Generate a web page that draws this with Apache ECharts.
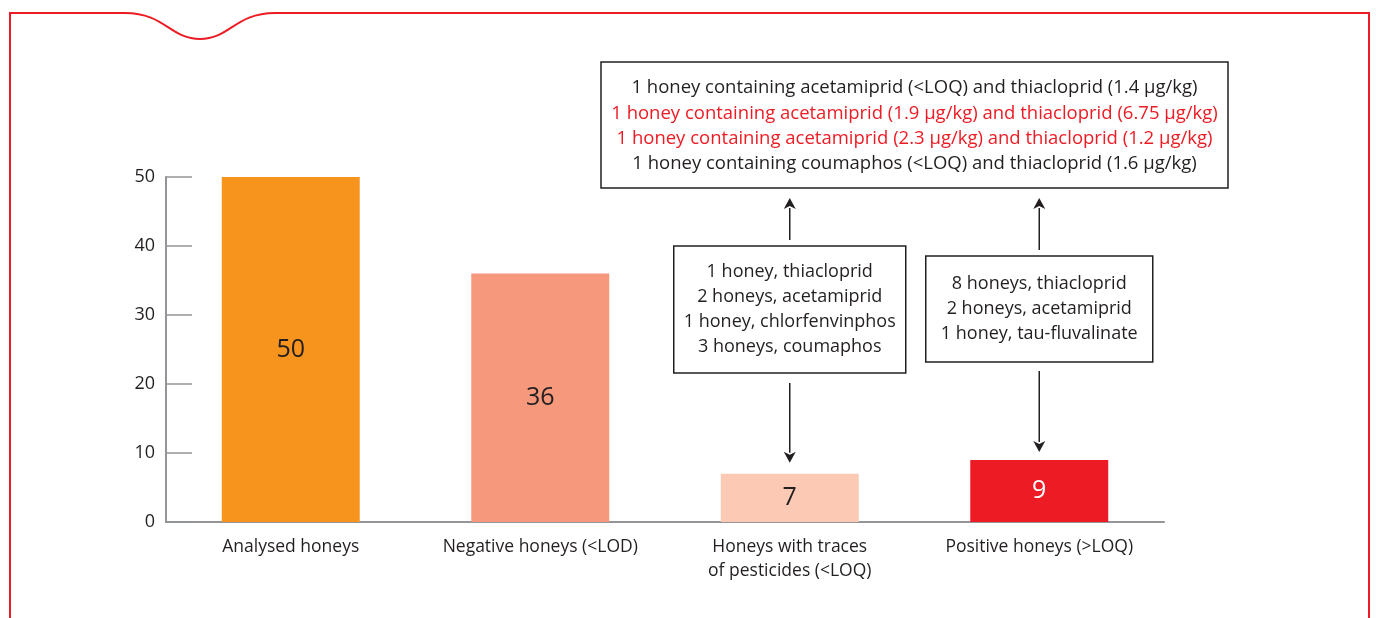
<!DOCTYPE html>
<html>
<head>
<meta charset="utf-8">
<script src="https://cdn.jsdelivr.net/npm/echarts@6/dist/echarts.min.js"></script>
<style>
  html, body { margin: 0; padding: 0; background: #ffffff; }
  #chart { width: 1376px; height: 618px; }
</style>
</head>
<body>
<div id="chart"></div>
<script>
// Honey survey: number of honeys per result group
const categories = [
  'Analysed honeys',
  'Negative honeys (<LOD)',
  'Honeys with traces\nof pesticides (<LOQ)',
  'Positive honeys (>LOQ)'
];
const honeyCounts = [50, 36, 7, 9];
const barColors = ['#f7941d', '#f5987b', '#fbc9b4', '#ed1c24'];
const barLabelColors = ['#231f20', '#231f20', '#231f20', '#ffffff'];
const yTicks = [0, 10, 20, 30, 40, 50];

// Detail notes shown above the bars
const tracesNotes = [
  '1 honey, thiacloprid',
  '2 honeys, acetamiprid',
  '1 honey, chlorfenvinphos',
  '3 honeys, coumaphos'
];
const positiveNotes = [
  '8 honeys, thiacloprid',
  '2 honeys, acetamiprid',
  '1 honey, tau-fluvalinate'
];
const combinedNotes = [
  '1 honey containing acetamiprid (<LOQ) and thiacloprid (1.4 µg/kg)',
  '1 honey containing acetamiprid (1.9 µg/kg) and thiacloprid (6.75 µg/kg)',
  '1 honey containing acetamiprid (2.3 µg/kg) and thiacloprid (1.2 µg/kg)',
  '1 honey containing coumaphos (<LOQ) and thiacloprid (1.6 µg/kg)'
];
const combinedNoteHighlight = [false, true, true, false];

const FONT = '"Open Sans", "DejaVu Sans", sans-serif';
const INK = '#231f20';
const RED = '#ed1c24';
const AXIS = '#939598';

const chart = echarts.init(document.getElementById('chart'), null, { renderer: 'canvas' });

chart.setOption({
  backgroundColor: '#ffffff',
  animation: false,
  grid: { left: 166, right: 212, top: 177, bottom: 96 },
  xAxis: {
    type: 'category',
    data: categories,
    axisLine: { lineStyle: { color: AXIS, width: 2 } },
    axisTick: { inside: true, length: 7, lineStyle: { color: AXIS, width: 1.5 } },
    axisLabel: {
      interval: 0,
      color: INK, fontFamily: FONT, fontSize: 17.5, lineHeight: 24, margin: 13
    }
  },
  yAxis: {
    type: 'value',
    min: 0, max: 50, interval: 10,
    splitLine: { show: false },
    axisLine: { show: true, lineStyle: { color: AXIS, width: 2 } },
    axisTick: { show: true, inside: true, length: 26, lineStyle: { color: AXIS, width: 1.5 } },
    axisLabel: {
      color: INK, fontFamily: FONT, fontSize: 18, margin: 11,
      formatter: v => (yTicks.includes(v) ? String(v) : '')
    }
  },
  series: [{
    type: 'bar',
    barWidth: '55.3%',
    data: honeyCounts.map((v, i) => ({
      value: v,
      itemStyle: { color: barColors[i] },
      label: { color: barLabelColors[i] }
    })),
    label: {
      show: true,
      position: 'inside',
      fontFamily: FONT,
      fontSize: 25
    }
  }]
});

// Notes, boxes and arrows placed relative to the axis scale
function px(cat, val) {
  return chart.convertToPixel({ gridIndex: 0 }, [cat, val]);
}

function boxWithLines(cx, top, width, height, lines, colors, firstLineY, step, size) {
  const els = [{
    type: 'rect',
    shape: { x: cx - width / 2, y: top, width: width, height: height },
    style: { fill: '#ffffff', stroke: INK, lineWidth: 1.5 },
    z: 10
  }];
  lines.forEach((t, i) => {
    els.push({
      type: 'text',
      z: 11,
      style: {
        text: t, x: cx, y: firstLineY + i * step,
        align: 'center', verticalAlign: 'middle',
        font: size + 'px ' + FONT, fill: colors[i]
      }
    });
  });
  return els;
}

function arrow(x, y1, y2) {
  // line from y1 to tip y2, head at tip
  const dir = y2 > y1 ? 1 : -1;
  const headLen = 11, headHalf = 6;
  return [{
    type: 'line', z: 10,
    shape: { x1: x, y1: y1, x2: x, y2: y2 - dir * headLen + dir * 1 },
    style: { stroke: INK, lineWidth: 1.5 }
  }, {
    type: 'polygon', z: 10,
    shape: { points: [[x, y2], [x - headHalf, y2 - dir * headLen], [x, y2 - dir * (headLen - 3)], [x + headHalf, y2 - dir * headLen]] },
    style: { fill: INK }
  }];
}

function frame() {
  const s = { stroke: RED, lineWidth: 2, fill: null };
  return [
    { type: 'polyline', shape: { points: [[10, 620], [10, 13], [125, 13]] }, style: s },
    { type: 'bezierCurve', shape: { x1: 125, y1: 13, cpx1: 165, cpy1: 13, cpx2: 170, cpy2: 39, x2: 200, y2: 39 }, style: s },
    { type: 'bezierCurve', shape: { x1: 200, y1: 39, cpx1: 230, cpy1: 39, cpx2: 235, cpy2: 13, x2: 275, y2: 13 }, style: s },
    { type: 'polyline', shape: { points: [[275, 13], [1369, 13], [1369, 620]] }, style: s }
  ];
}

const tracesX = px(2, 0)[0];
const positiveX = px(3, 0)[0];
const combinedX = (tracesX + positiveX) / 2;
const tracesTop = px(2, honeyCounts[2])[1];
const positiveTop = px(3, honeyCounts[3])[1];

const graphics = [].concat(
  frame(),
  boxWithLines(combinedX, 62, 627, 126, combinedNotes,
    combinedNoteHighlight.map(h => (h ? RED : INK)), 88, 25.3, 18.5),
  boxWithLines(tracesX, 246, 232, 127, tracesNotes, tracesNotes.map(() => INK), 272, 25, 18),
  boxWithLines(positiveX, 256, 227, 106, positiveNotes, positiveNotes.map(() => INK), 284, 25, 18),
  arrow(tracesX, 383, tracesTop - 11),
  arrow(tracesX, 240, 198),
  arrow(positiveX, 371, positiveTop - 8),
  arrow(positiveX, 250, 198)
);

chart.setOption({ graphic: { elements: graphics } });
</script>
</body>
</html>
